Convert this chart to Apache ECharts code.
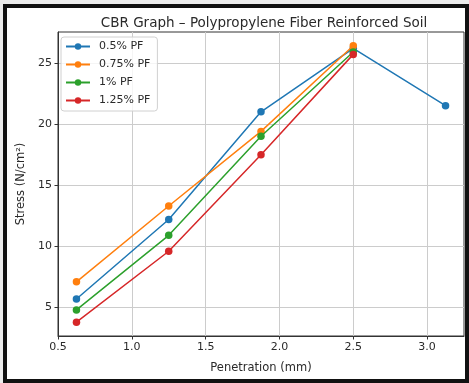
<!DOCTYPE html>
<html>
<head>
<meta charset="utf-8">
<script src="https://cdn.jsdelivr.net/npm/echarts@6/dist/echarts.min.js"></script>
<style>
  html, body { margin: 0; padding: 0; background: #ececec; }
  #frame {
    position: absolute; left: 3px; top: 4px;
    width: 458px; height: 371px;
    border: 4px solid #111; background: #fff;
  }
  #chart { width: 458px; height: 371px; }
</style>
</head>
<body>
<div id="frame"><div id="chart"></div></div>
<script>
// penetration (mm)
var penetration = [0.625, 1.25, 1.875, 2.5, 3.125];
// stress (N/cm²) per fibre content
var pf05 = [5.7, 12.2, 21.0, 26.2, 21.5];
var pf075 = [7.1, 13.3, 19.4, 26.4];
var pf1 = [4.8, 10.9, 19.0, 25.9];
var pf125 = [3.8, 9.6, 17.5, 25.7];

var xTicks = [0.5, 1.0, 1.5, 2.0, 2.5, 3.0];
var yTicks = [5, 10, 15, 20, 25];

var names = ['0.5% PF', '0.75% PF', '1% PF', '1.25% PF'];
var colors = ['#1f77b4', '#ff7f0e', '#2ca02c', '#d62728'];
var sets = [pf05, pf075, pf1, pf125];

function pairs(vals) {
  return vals.map(function (v, i) { return [penetration[i], v]; });
}

// matplotlib style 5% margins
var all = [].concat(pf05, pf075, pf1, pf125);
var yMin = Math.min.apply(null, all), yMax = Math.max.apply(null, all);
var yPad = (yMax - yMin) * 0.05;
var xPad = (penetration[penetration.length - 1] - penetration[0]) * 0.05;

var chart = echarts.init(document.getElementById('chart'));

var font = 'DejaVu Sans';

var option = {
  animation: false,
  title: {
    text: 'CBR Graph \u2013 Polypropylene Fiber Reinforced Soil',
    left: 252,
    textAlign: 'center',
    top: 3,
    textStyle: { fontFamily: font, fontSize: 13.5, fontWeight: 'normal', color: '#2a2a2a' }
  },
  legend: {
    data: names,
    orient: 'vertical',
    left: 54,
    top: 29,
    itemWidth: 24,
    itemHeight: 8,
    itemGap: 7,
    padding: [4, 7, 5, 4],
    borderColor: '#d0d0d0',
    borderWidth: 1,
    borderRadius: 3,
    backgroundColor: 'rgba(255,255,255,0.8)',
    textStyle: { fontFamily: font, fontSize: 11, color: '#2a2a2a', padding: [0, 0, 0, 4] }
  },
  grid: {
    left: 49, right: 1, top: 24, bottom: 36,
    show: true, borderColor: '#333', borderWidth: 1
  },
  xAxis: {
    type: 'value',
    min: penetration[0] - xPad,
    max: penetration[penetration.length - 1] + xPad,
    name: 'Penetration (mm)',
    nameLocation: 'middle',
    nameGap: 26,
    nameTextStyle: { fontFamily: font, fontSize: 11.5, color: '#2a2a2a' },
    axisLine: { lineStyle: { color: '#333' } },
    axisTick: { show: true, length: 3.5, customValues: xTicks, lineStyle: { color: '#333' } },
    axisLabel: {
      customValues: xTicks,
      fontFamily: font, fontSize: 11, color: '#2a2a2a', margin: 6,
      formatter: function (v) { return v.toFixed(1); }
    },
    splitLine: { show: true, lineStyle: { color: '#cccccc', width: 1 } }
  },
  yAxis: {
    type: 'value',
    min: yMin - yPad,
    max: yMax + yPad,
    name: 'Stress (N/cm\u00b2)',
    nameLocation: 'middle',
    nameGap: 31,
    nameTextStyle: { fontFamily: font, fontSize: 11.5, color: '#2a2a2a' },
    axisLine: { show: true, lineStyle: { color: '#333' } },
    axisTick: { show: true, length: 3.5, customValues: yTicks, lineStyle: { color: '#333' } },
    axisLabel: { customValues: yTicks, fontFamily: font, fontSize: 11, color: '#2a2a2a', margin: 6 },
    splitLine: { show: true, lineStyle: { color: '#cccccc', width: 1 } }
  },
  series: sets.map(function (vals, i) {
    return {
      name: names[i],
      type: 'line',
      data: pairs(vals),
      symbol: 'circle',
      symbolSize: 7.5,
      color: colors[i],
      lineStyle: { width: 1.5 },
      z: 2 + i
    };
  })
};

chart.setOption(option);
</script>
</body>
</html>
